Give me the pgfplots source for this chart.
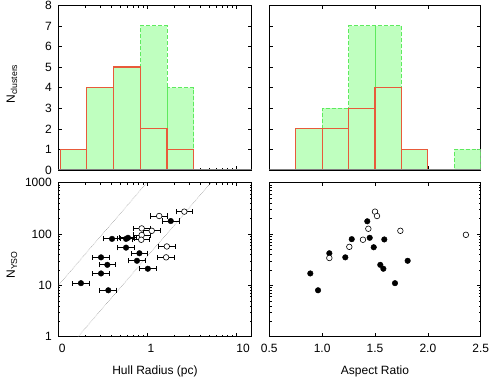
\documentclass[border=0pt]{standalone}
\usepackage{pgfplots}
\pgfplotsset{compat=1.18}
\usepackage{fontspec}
\setmainfont{Liberation Sans}
\definecolor{hfill}{HTML}{BFFFBF}
\definecolor{hgreen}{HTML}{5EEA5E}
\definecolor{hred}{HTML}{E85A3A}
\pgfplotsset{
  base/.style={
    scale only axis, anchor=south west,
    axis line style={black, line width=0.6pt},
    tick style={black, line width=0.5pt},
    major tick length=4pt, minor tick length=2.2pt,
    tick align=inside,
    font=\fontsize{12}{14}\selectfont,
    /pgf/number format/assume math mode=true,
  },
  ebar/.style={error bars/.cd, x dir=both, x explicit relative,
    error mark=|,
    error bar style={black, line width=0.8pt},
    error mark options={black, mark size=2.6pt, line width=0.8pt}},
  gbar/.style={fill=hfill, draw=hgreen, dash pattern=on 4pt off 2pt, line width=1pt, line join=miter},
  rbar/.style={fill=hfill, draw=hred, line width=1.15pt, line join=miter},
}
\begin{document}
\begin{tikzpicture}[x=1pt,y=1pt]
\path[use as bounding box] (0,0) rectangle (490,381);
% ---------- top left histogram
\begin{axis}[base, at={(58.3pt,211pt)}, width=193.4pt, height=164.7pt,
  xmode=log, xmin=0.1, xmax=15.1, ymin=0, ymax=8,
  xtick={0.1,1,10}, xticklabels={,,},
  minor xtick={0.2,0.3,0.4,0.5,0.6,0.7,0.8,0.9,2,3,4,5,6,7,8,9},
  ytick={0,1,2,3,4,5,6,7,8},
  yticklabel style={xshift=-3pt},
]
% all clusters: 1,4,5,7,4
\addplot[gbar] coordinates {(0.105,0)(0.105,1)(0.21,1)(0.21,0)(0.21,4)(0.42,4)(0.42,0)(0.42,5)(0.84,5)(0.84,0)(0.84,7)(1.68,7)(1.68,0)(1.68,4)(3.36,4)(3.36,0)} -- cycle;
% subset: 1,4,5,2,1
\addplot[rbar] coordinates {(0.105,0)(0.105,1)(0.21,1)(0.21,0)(0.21,4)(0.42,4)(0.42,0)(0.42,5)(0.84,5)(0.84,0)(0.84,2)(1.68,2)(1.68,0)(1.68,1)(3.36,1)(3.36,0)} -- cycle;
\draw[gray, line width=1.4pt] (rel axis cs:0,0) -- (rel axis cs:1,0);
\end{axis}
% ---------- top right histogram
\begin{axis}[base, at={(269.3pt,211pt)}, width=211.4pt, height=164.7pt,
  xmin=0.5, xmax=2.5, ymin=0, ymax=8,
  xtick={1,1.5,2}, xticklabels={,,},
  ytick={0,1,2,3,4,5,6,7,8}, yticklabels={},
]
% all clusters: 2,3,7,7,1,0,1
\addplot[gbar] coordinates {(0.75,0)(0.75,2)(1.0,2)(1.0,0)(1.0,3)(1.25,3)(1.25,0)(1.25,7)(1.5,7)(1.5,0)(1.5,7)(1.75,7)(1.75,0)(1.75,1)(2.0,1)(2.0,0)(2.25,0)(2.25,1)(2.5,1)(2.5,0)} -- cycle;
% subset: 2,2,3,4,1
\addplot[rbar] coordinates {(0.75,0)(0.75,2)(1.0,2)(1.0,0)(1.0,2)(1.25,2)(1.25,0)(1.25,3)(1.5,3)(1.5,0)(1.5,4)(1.75,4)(1.75,0)(1.75,1)(2.0,1)(2.0,0)} -- cycle;
\draw[gray, line width=1.4pt] (rel axis cs:0,0) -- (rel axis cs:1,0);
\end{axis}
% ---------- bottom left scatter
\begin{axis}[base, at={(58.3pt,44.3pt)}, width=193.4pt, height=154.2pt,
  xmode=log, ymode=log, xmin=0.1, xmax=15.1, ymin=1, ymax=1000,
  xtick={0.1,1,10}, xticklabels={0,1,10},
  minor xtick={0.2,0.3,0.4,0.5,0.6,0.7,0.8,0.9,2,3,4,5,6,7,8,9},
  ytick={1,10,100,1000}, yticklabels={1,10,100,1000},
  minor ytick={2,3,4,5,6,7,8,9,20,30,40,50,60,70,80,90,200,300,400,500,600,700,800,900},
  xticklabel style={anchor=north west, xshift=-3pt, yshift=-4pt},
  yticklabel style={xshift=-3pt},
]
\addplot[densely dotted, gray, line width=0.5pt] coordinates {(0.1,10)(1,1000)};
\addplot[densely dotted, gray, line width=0.5pt] coordinates {(0.1667,1)(5.27,1000)};
\addplot[only marks, mark=*, mark size=2.8pt, black, ebar]
coordinates {
(0.180,11) += (0.243,0) -= (0.196,0)
(0.366,8) += (0.243,0) -= (0.196,0)
(0.303,17) += (0.243,0) -= (0.196,0)
(0.357,25) += (0.243,0) -= (0.196,0)
(0.303,35) += (0.243,0) -= (0.196,0)
(0.403,80) += (0.243,0) -= (0.196,0)
(0.58,54) += (0.243,0) -= (0.196,0)
(0.58,80) += (0.243,0) -= (0.196,0)
(0.61,84) += (0.243,0) -= (0.196,0)
(0.82,42) += (0.243,0) -= (0.196,0)
(0.77,30) += (0.243,0) -= (0.196,0)
(1.02,21) += (0.243,0) -= (0.196,0)
(1.85,178) += (0.243,0) -= (0.196,0)
};
\addplot[only marks, mark=*, mark size=2.8pt, black, mark options={fill=white, line width=0.6pt}, ebar]
coordinates {
(0.87,128) += (0.243,0) -= (0.196,0)
(0.87,95) += (0.243,0) -= (0.196,0)
(0.86,77) += (0.243,0) -= (0.196,0)
(1.13,115) += (0.243,0) -= (0.196,0)
(1.37,223) += (0.243,0) -= (0.196,0)
(2.63,271) += (0.243,0) -= (0.196,0)
(1.67,57) += (0.243,0) -= (0.196,0)
(1.64,35) += (0.243,0) -= (0.196,0)
};
\end{axis}
% ---------- bottom right scatter
\begin{axis}[base, at={(269.3pt,44.3pt)}, width=211.4pt, height=154.2pt,
  ymode=log, xmin=0.5, xmax=2.5, ymin=1, ymax=1000,
  xtick={0.5,1,1.5,2,2.5}, xticklabels={0.5,1.0,1.5,2.0,2.5},
  ytick={1,10,100,1000}, yticklabels={},
  minor ytick={2,3,4,5,6,7,8,9,20,30,40,50,60,70,80,90,200,300,400,500,600,700,800,900},
  xticklabel style={yshift=-4pt},
]
\addplot[only marks, mark=*, mark size=2.8pt, black] coordinates {
(0.888,17)(0.961,8)(1.068,42)(1.219,35)(1.28,79)(1.427,176)(1.45,84)
(1.488,55)(1.55,25)(1.579,21)(1.588,78)(1.689,11)(1.809,30)
};
\addplot[only marks, mark=*, mark size=2.8pt, black, mark options={fill=white, line width=0.6pt}] coordinates {
(1.068,34)(1.257,56)(1.386,77)(1.437,126)(1.50,271)(1.519,223)(1.74,115)(2.36,96)
};
\end{axis}
\node[rotate=90, font=\fontsize{12}{14}\selectfont] at (12,297) {N\raisebox{-0.35ex}{\fontsize{8.7}{10}\selectfont clusters}};
\node[rotate=90, font=\fontsize{12}{14}\selectfont] at (12,116) {N\raisebox{-0.35ex}{\fontsize{8.7}{10}\selectfont YSO}};
\node[font=\fontsize{12}{14}\selectfont] at (155,10) {Hull Radius (pc)};
\node[font=\fontsize{12}{14}\selectfont] at (375,10) {Aspect Ratio};
\end{tikzpicture}
\end{document}
